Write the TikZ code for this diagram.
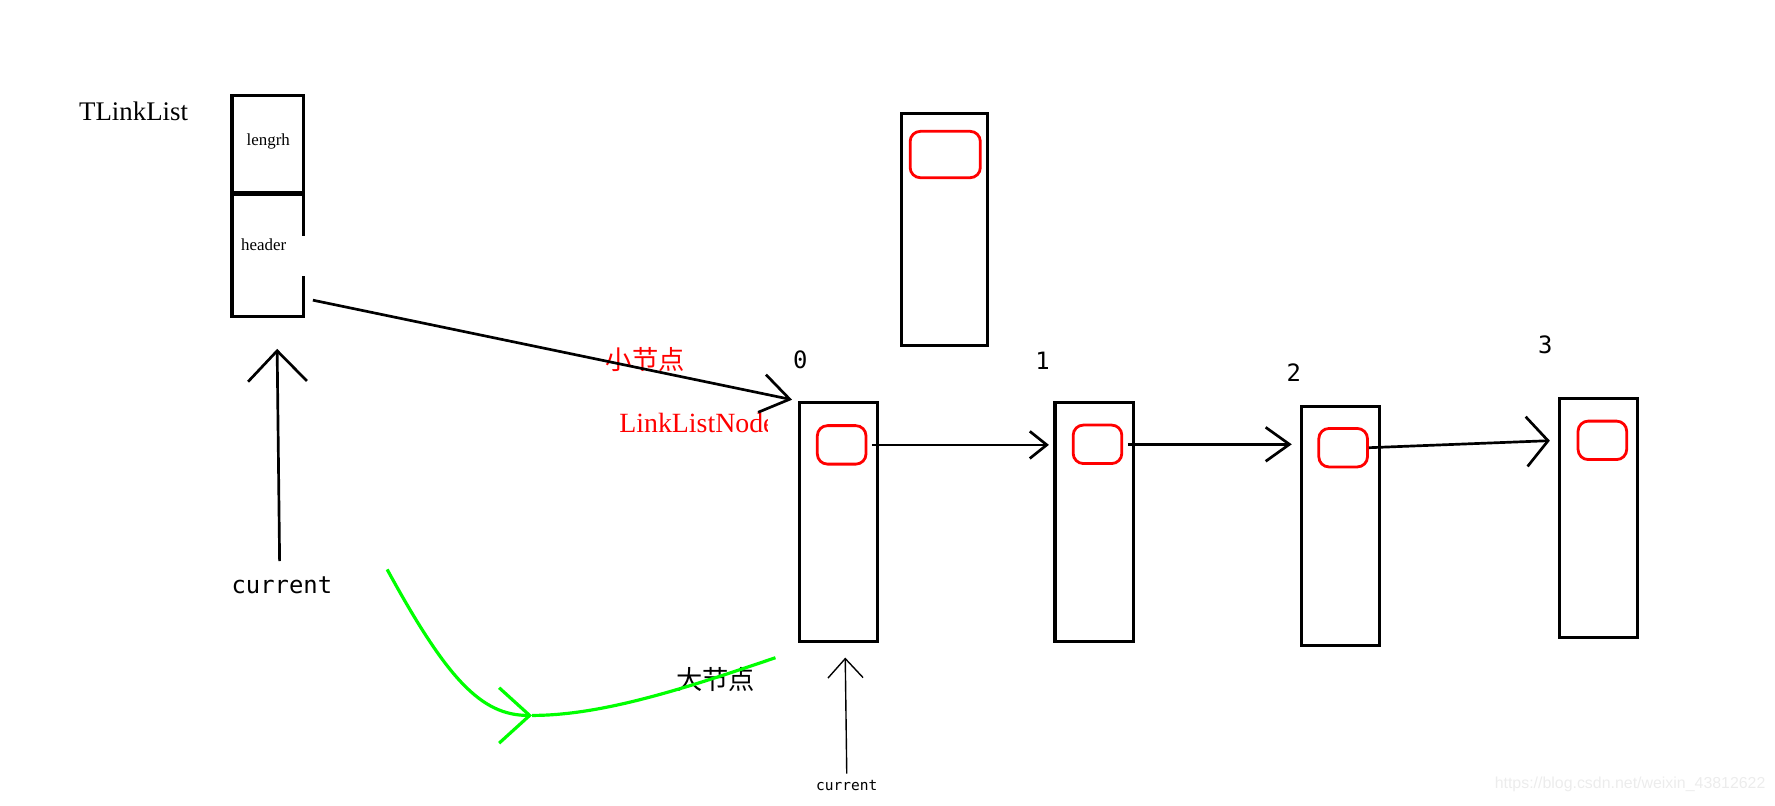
\documentclass[tikz,border=0pt]{standalone}
\usepackage{fontspec}
\setmainfont{Liberation Serif}
\setmonofont{DejaVu Sans Mono}
\newfontfamily\cjk{Noto Sans CJK SC}
\newfontfamily\urlfont{Liberation Sans}
\usetikzlibrary{arrows.meta, positioning, calc}
\definecolor{slotRed}{RGB}{255, 0, 0}
\definecolor{moveGreen}{RGB}{0, 255, 0}
\definecolor{markGray}{RGB}{236, 236, 236}

\begin{document}
\begin{tikzpicture}[
    x=0.02cm, y=-0.02cm,
    cellBox/.style={rectangle, draw=black, line width=1.6pt, minimum width=1.26cm, inner sep=0pt},
    cellText/.style={font=\fontsize{8.5}{10}\selectfont, inner sep=1pt},
    listBox/.style={rectangle, draw=black, line width=1.6pt, minimum width=1.38cm, minimum height=4.22cm, inner sep=0pt},
    slotBox/.style={rectangle, draw=slotRed, line width=1.4pt, rounded corners=0.18cm, minimum width=0.86cm, minimum height=0.68cm, inner sep=0pt},
    idxText/.style={font=\ttfamily\fontsize{12}{14}\selectfont, inner sep=1pt},
    curText/.style={font=\ttfamily\fontsize{12}{14}\selectfont, inner sep=2pt},
    redTag/.style={text=slotRed, inner sep=1pt},
    ptrLine/.style={draw=black, line width=1.35pt},
    thinLine/.style={draw=black, line width=0.7pt},
    moveLine/.style={draw=moveGreen, line width=1.6pt}
  ]
    \useasboundingbox (0,0) rectangle (1568,712);

    % TLinkList head
    \node[font=\fontsize{13.5}{16}\selectfont] (title) at (118,98) {TLinkList};
    \node[cellBox, minimum height=1.72cm, anchor=north] (lenCell) at (236.5,83) {};
    \node[cellBox, minimum height=2.16cm, below=-0.8pt of lenCell] (hdrCell) {};
    \fill[white] ($(hdrCell.north east)+(-4,38)$) rectangle ($(hdrCell.north east)+(3,73)$);
    \node[cellText] (lenText) at (237,125) {lengrh};
    \node[cellText] (hdrText) at (233,216) {header};

    % spare node
    \node[listBox, minimum width=1.52cm, minimum height=4.1cm] (spare) at (834,202.5) {};
    \node[slotBox, minimum width=1.24cm, minimum height=0.82cm] (spareSlot) at (835,136.5) {};

    % list nodes 0..3
    \node[listBox] (n0) at (740.5,461) {};
    \node[listBox] (n1) at (966.5,461) {};
    \node[listBox] (n2) at (1184,464.5) {};
    \node[listBox] (n3) at (1412,457.5) {};
    \node[slotBox] (s0) at (743.5,393) {};
    \node[slotBox] (s1) at (969.5,392.5) {};
    \node[slotBox] (s2) at (1186.5,395.5) {};
    \node[slotBox] (s3) at (1415.5,389) {};

    \node[idxText] (i0) at (707,318) {0};
    \node[idxText] (i1) at (921,319) {1};
    \node[idxText] (i2) at (1143,329) {2};
    \node[idxText] (i3) at (1365,305) {3};

    % labels
    \node[redTag, font=\cjk\fontsize{13.2}{15}\selectfont] (smallTag) at (570,318) {小节点};
    \begin{scope}
      \clip (530,352) rectangle (678,398);
      \node[redTag, font=\fontsize{14}{16}\selectfont, anchor=west] (nodeName) at (545,374) {LinkListNode};
    \end{scope}
    \node[font=\cjk\fontsize{13.2}{15}\selectfont, inner sep=1pt] (bigTag) at (632,600) {大节点};
    \node[curText] (curBig) at (249,517) {current};
    \node[curText, font=\ttfamily\fontsize{7.3}{8}\selectfont, inner sep=1pt] (curSmall) at (748,694) {current};
    \node[font=\urlfont\fontsize{8}{9}\selectfont, text=markGray] (mark) at (1440,693) {https://blog.csdn.net/weixin\_43812622};

    % pointers
    \coordinate (hdrOut) at ($(hdrCell.south east)+(7,-16)$);
    \draw[ptrLine, -{Straight Barb[length=0.5cm, width=0.68cm]}, shorten >=0.1cm] (hdrOut) -- (n0.north west);
    \draw[ptrLine, -{Straight Barb[length=0.3cm, width=0.48cm]}, shorten >=0.08cm] ($(s0.east)+(4,0)$) -- (s0.east -| n1.west);
    \draw[ptrLine, -{Straight Barb[length=0.42cm, width=0.6cm]}, shorten >=0.14cm] ($(s1.east)+(4,0)$) -- (s1.east -| n2.west);
    \draw[ptrLine, -{Straight Barb[length=0.38cm, width=0.88cm]}, shorten >=0.14cm] (s2.east) -- (n3.west |- s3.west);

    \draw[ptrLine, -{Straight Barb[length=0.54cm, width=1.04cm]}, shorten >=0.54cm] ($(curBig.north)+(-2,-10)$) -- ($(hdrCell.south)+(8,0)$);
    \draw[thinLine, -{Straight Barb[length=0.34cm, width=0.62cm]}, shorten >=0.26cm] ($(curSmall.north)+(0,-4)$) -- ($(n0.south)+(6,0)$);

    % current moves on
    \coordinate (gA) at (342,503);
    \coordinate (gM) at (470,632);
    \coordinate (gB) at (685,581);
    \draw[moveLine, -{Straight Barb[length=0.54cm, width=0.98cm]}] (gA) .. controls (395,600) and (425,632) .. (gM);
    \draw[moveLine] (gM) .. controls (530,632) and (600,610) .. (gB);
  \end{tikzpicture}
\end{document}
